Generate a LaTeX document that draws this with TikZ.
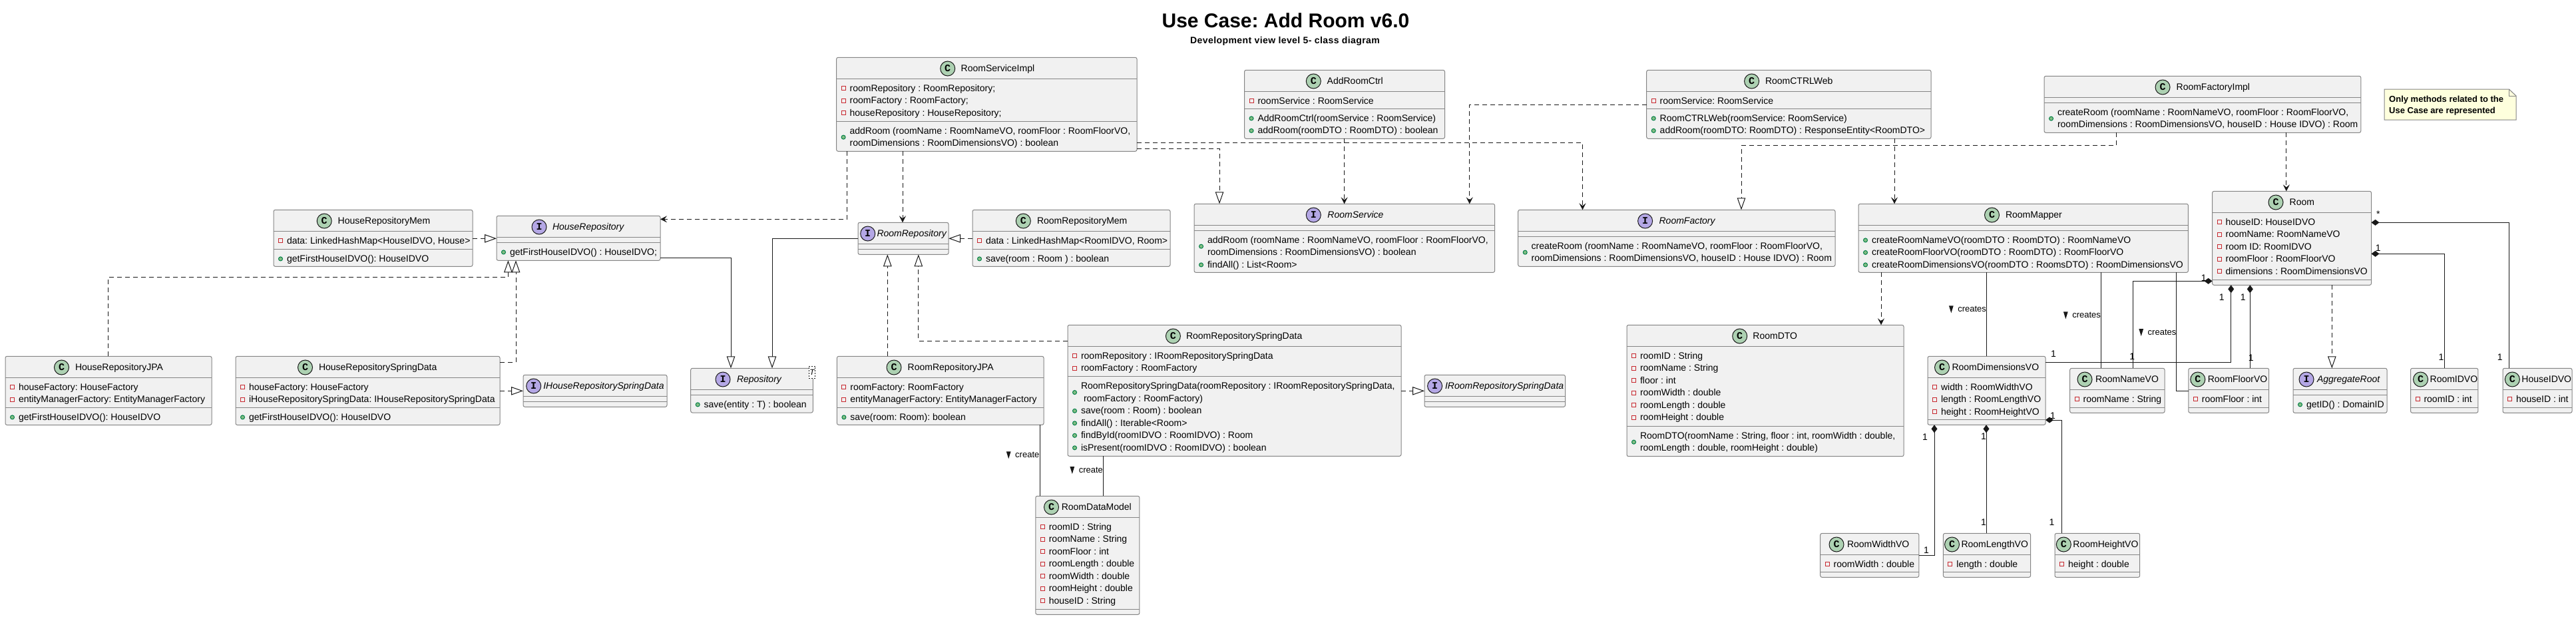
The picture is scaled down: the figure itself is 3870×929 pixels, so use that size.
\documentclass[tikz,border=0pt]{standalone}
\usepackage{fontspec}
\setmainfont{Liberation Sans}
\newfontfamily\iconfont{Liberation Mono}
\newfontfamily\subfont[LetterSpace=3]{Liberation Sans}
\usetikzlibrary{arrows.meta}
\frenchspacing
\definecolor{boxfill}{HTML}{F1F1F1}
\definecolor{boxline}{HTML}{858585}
\definecolor{ink}{HTML}{181818}
\definecolor{cicon}{HTML}{ADD1B2}
\definecolor{iicon}{HTML}{B4A7E5}
\definecolor{notefill}{HTML}{FEFFDD}
\definecolor{pvline}{HTML}{C82930}
\definecolor{pbline}{HTML}{038048}
\definecolor{pbfill}{HTML}{84BE84}
\newcounter{tn}
\tikzset{
  umlbox/.style={draw=boxline,fill=boxfill,line width=1pt,rounded corners=2.5pt,rectangle,inner sep=0pt,outer sep=0pt,anchor=north west},
  sepline/.style={draw=boxline,line width=1pt},
  memtext/.style={inner sep=0pt,outer sep=0pt,anchor=base west,text=black,font=\fontsize{14}{16}\selectfont},
  headtext/.style={inner sep=0pt,outer sep=0pt,anchor=base west,text=black,font=\fontsize{14}{16}\selectfont},
  iconmark/.style={circle,draw=ink,line width=1pt,minimum size=22pt,inner sep=0pt,outer sep=0pt,text=black,font=\iconfont\bfseries\fontsize{15}{15}\selectfont},
  multlabel/.style={inner sep=0pt,outer sep=0pt,text=black,font=\fontsize{14}{16}\selectfont},
  rellabel/.style={inner sep=0pt,outer sep=0pt,anchor=base west,text=black,font=\fontsize{13}{15}\selectfont},
  conn/.style={draw=ink,line width=1pt},
  dep/.style={conn,dash pattern=on 7pt off 5pt,-{Stealth[length=10pt,width=10pt,inset=4pt,fill=ink]}},
  real/.style={conn,dash pattern=on 7pt off 5pt,-{Triangle[length=18pt,width=12.5pt,fill=white,line width=1pt]}},
  inh/.style={conn,-{Triangle[length=18pt,width=12.5pt,fill=white,line width=1pt]}},
  comp/.style={conn,{Diamond[length=12pt,width=9pt]}-},
  plain/.style={conn},
}
% id, C/I, x1, x2, y1, y2, icon x, text x, title
\newcommand{\cls}[9]{%
  \node[umlbox,minimum width=#4pt-#3pt,minimum height=#6pt-#5pt] (#1) at (#3,#5) {};
  \ifx#2I\relax
    \node[iconmark,fill=iicon] (#1icon) at (#7,{#5+16.7}) {I};
    \node[headtext] (#1title) at (#8,{#5+21.5}) {\itshape #9};
  \else
    \node[iconmark,fill=cicon] (#1icon) at (#7,{#5+16.7}) {C};
    \node[headtext] (#1title) at (#8,{#5+21.5}) {#9};
  \fi
}
\newcommand{\sepl}[2]{\draw[sepline] (#1.west |- 0,#2) -- (#1.east |- 0,#2);}
\newcommand{\rowtext}[4]{%
  \stepcounter{tn}%
  \node[memtext] (txt\arabic{tn}) at ({#1+20},{#2+19+#3*18.5}) {#4};}
\newcommand{\pvmark}[3]{\draw[pvline,line width=1pt] ({#1+7.5},{#2+19+#3*18.5-7.4}) rectangle ++(6,6);}
\newcommand{\pbmark}[3]{\draw[pbline,fill=pbfill,line width=1pt] ({#1+10.5},{#2+19+#3*18.5-4.4}) circle (3pt);}
\newcommand{\pv}[4]{\pvmark{#1}{#2}{#3}\rowtext{#1}{#2}{#3}{#4}}
\newcommand{\pb}[4]{\pbmark{#1}{#2}{#3}\rowtext{#1}{#2}{#3}{#4}}
\newcommand{\mult}[3]{\stepcounter{tn}\node[multlabel] (txt\arabic{tn}) at (#1,#2) {#3};}
% text x, baseline y, text
\newcommand{\rel}[3]{%
  \stepcounter{tn}%
  \node[rellabel] (txt\arabic{tn}) at (#1,#2) {#3};
  \fill[ink] ({#1-13.4},{#2-9.3}) -- ({#1-6.6},{#2-9.3}) -- ({#1-10},{#2+1.7}) -- cycle;}
\begin{document}
\begin{tikzpicture}[x=1pt,y=-1pt]
\useasboundingbox (0,0) rectangle (3870,929);
% titles
\node[inner sep=0pt,anchor=base,font=\bfseries\fontsize{30}{34}\selectfont] (maintitle) at (1931.5,41.7) {Use Case: Add Room v6.0};
\node[inner sep=0pt,anchor=base,font=\subfont\bfseries\fontsize{14}{16}\selectfont] (subtitle) at (1930.5,65) {Development view level 5- class diagram};
% ----- classes
\cls{hmem}{C}{411}{710}{315.3}{400.3}{487.2}{507.7}{HouseRepositoryMem}
\sepl{hmem}{347.3}\sepl{hmem}{374.3}
\pv{411}{347.3}{0}{data: LinkedHashMap<HouseIDVO, House>}
\pb{411}{374.3}{0}{getFirstHouseIDVO(): HouseIDVO}

\cls{hrepo}{I}{746}{992}{324.3}{391.3}{810}{830}{HouseRepository}
\sepl{hrepo}{356.3}\sepl{hrepo}{364.3}
\pb{746}{364.3}{0}{getFirstHouseIDVO() : HouseIDVO;}

\cls{hjpa}{C}{8}{318}{535.3}{638.5}{92.5}{113}{HouseRepositoryJPA}
\sepl{hjpa}{567.3}\sepl{hjpa}{612.3}
\pv{8}{567.3}{0}{houseFactory: HouseFactory}
\pv{8}{567.3}{1}{entityManagerFactory: EntityManagerFactory}
\pb{8}{612.3}{0}{getFirstHouseIDVO(): HouseIDVO}

\cls{hspring}{C}{354}{751}{535.3}{638.5}{458.5}{479}{HouseRepositorySpringData}
\sepl{hspring}{567.3}\sepl{hspring}{612.3}
\pv{354}{567.3}{0}{houseFactory: HouseFactory}
\pv{354}{567.3}{1}{iHouseRepositorySpringData: IHouseRepositorySpringData}
\pb{354}{612.3}{0}{getFirstHouseIDVO(): HouseIDVO}

\cls{ihspring}{I}{786}{1002}{563.3}{611.3}{801.7}{816.3}{IHouseRepositorySpringData}
\sepl{ihspring}{595.3}\sepl{ihspring}{603.3}

\cls{repo}{I}{1037.7}{1221.3}{553.3}{620}{1086}{1107}{Repository}
\sepl{repo}{585.3}\sepl{repo}{593.3}
\pb{1037.7}{593.3}{0}{save(entity : T) : boolean}
\node[draw=ink,dash pattern=on 2pt off 2pt,line width=.8pt,fill=white,inner sep=0pt,minimum width=9.4pt,minimum height=18.7pt,font=\itshape\fontsize{12}{14}\selectfont] (repotemplate) at (1220,559.3) {T};

\cls{rsi}{C}{1256.6}{1708}{86.3}{227.3}{1423.7}{1443.7}{RoomServiceImpl}
\sepl{rsi}{118.3}\sepl{rsi}{182.3}
\pv{1256.6}{118.3}{0}{roomRepository : RoomRepository;}
\pv{1256.6}{118.3}{1}{roomFactory : RoomFactory;}
\pv{1256.6}{118.3}{2}{houseRepository : HouseRepository;}
\pbmark{1256.6}{182.3}{0.5}
\rowtext{1256.6}{182.3}{0}{addRoom (roomName : RoomNameVO, roomFloor : RoomFloorVO,}
\rowtext{1256.6}{182.3}{1}{roomDimensions : RoomDimensionsVO) : boolean}

\cls{rrepo}{I}{1289}{1425}{334.3}{382.3}{1303.7}{1317.5}{RoomRepository}
\sepl{rrepo}{366.3}\sepl{rrepo}{374.3}

\cls{rmem}{C}{1461}{1758}{315.3}{400.3}{1537.3}{1558}{RoomRepositoryMem}
\sepl{rmem}{347.3}\sepl{rmem}{374.3}
\pv{1461}{347.3}{0}{data : LinkedHashMap<RoomIDVO, Room>}
\pb{1461}{374.3}{0}{save(room : Room ) : boolean}

\cls{rjpa}{C}{1257.4}{1568}{535.3}{638.3}{1343}{1363.7}{RoomRepositoryJPA}
\sepl{rjpa}{567.3}\sepl{rjpa}{612.3}
\pv{1257.4}{567.3}{0}{roomFactory: RoomFactory}
\pv{1257.4}{567.3}{1}{entityManagerFactory: EntityManagerFactory}
\pb{1257.4}{612.3}{0}{save(room: Room): boolean}

\cls{rspring}{C}{1604}{2105}{488.3}{685.3}{1762.4}{1782}{RoomRepositorySpringData}
\sepl{rspring}{520.3}\sepl{rspring}{565.7}
\pv{1604}{520.3}{0}{roomRepository : IRoomRepositorySpringData}
\pv{1604}{520.3}{1}{roomFactory : RoomFactory}
\pbmark{1604}{565.7}{0.5}
\rowtext{1604}{565.7}{0}{RoomRepositorySpringData(roomRepository : IRoomRepositorySpringData,}
\rowtext{1604}{565.7}{1}{\hspace*{4pt}roomFactory : RoomFactory)}
\pb{1604}{565.7}{2}{save(room : Room) : boolean}
\pb{1604}{565.7}{3}{findAll() : Iterable<Room>}
\pb{1604}{565.7}{4}{findById(roomIDVO : RoomIDVO) : Room}
\pb{1604}{565.7}{5}{isPresent(roomIDVO : RoomIDVO) : boolean}

\cls{irspring}{I}{2140}{2351.5}{563.3}{611.3}{2155.6}{2171}{IRoomRepositorySpringData}
\sepl{irspring}{595.3}\sepl{irspring}{603.3}

\cls{rdm}{C}{1555.8}{1711.9}{745.3}{923.3}{1579.5}{1594.8}{RoomDataModel}
\sepl{rdm}{777.3}\sepl{rdm}{915.3}
\pv{1555.8}{777.3}{0}{roomID : String}
\pv{1555.8}{777.3}{1}{roomName : String}
\pv{1555.8}{777.3}{2}{roomFloor : int}
\pv{1555.8}{777.3}{3}{roomLength : double}
\pv{1555.8}{777.3}{4}{roomWidth : double}
\pv{1555.8}{777.3}{5}{roomHeight : double}
\pv{1555.8}{777.3}{6}{houseID : String}

\cls{addctrl}{C}{1869.5}{2170.5}{105.3}{208.3}{1973.3}{1993.7}{AddRoomCtrl}
\sepl{addctrl}{137.3}\sepl{addctrl}{163.3}
\pv{1869.5}{137.3}{0}{roomService : RoomService}
\pb{1869.5}{163.3}{0}{AddRoomCtrl(roomService : RoomService)}
\pb{1869.5}{163.3}{1}{addRoom(roomDTO : RoomDTO) : boolean}

\cls{rsvc}{I}{1794}{2245.6}{306.3}{409.3}{1973.3}{1994.4}{RoomService}
\sepl{rsvc}{338.3}\sepl{rsvc}{346.3}
\pbmark{1794}{346.3}{0.5}
\rowtext{1794}{346.3}{0}{addRoom (roomName : RoomNameVO, roomFloor : RoomFloorVO,}
\rowtext{1794}{346.3}{1}{roomDimensions : RoomDimensionsVO) : boolean}
\pb{1794}{346.3}{2}{findAll() : List<Room>}

\cls{rfac}{I}{2280.7}{2757}{315.3}{400.3}{2471.6}{2492.6}{RoomFactory}
\sepl{rfac}{347.3}\sepl{rfac}{355.3}
\pbmark{2280.7}{355.3}{0.5}
\rowtext{2280.7}{355.3}{0}{createRoom (roomName : RoomNameVO, roomFloor : RoomFloorVO,}
\rowtext{2280.7}{355.3}{1}{roomDimensions : RoomDimensionsVO, houseID : House IDVO) : Room}

\cls{web}{C}{2473.7}{2901}{105.3}{208.3}{2631.6}{2652}{RoomCTRLWeb}
\sepl{web}{137.3}\sepl{web}{163.3}
\pv{2473.7}{137.3}{0}{roomService: RoomService}
\pb{2473.7}{163.3}{0}{RoomCTRLWeb(roomService: RoomService)}
\pb{2473.7}{163.3}{1}{addRoom(roomDTO: RoomDTO) : ResponseEntity<RoomDTO>}

\cls{fimpl}{C}{3071}{3546.8}{114.3}{199.3}{3249}{3269.6}{RoomFactoryImpl}
\sepl{fimpl}{146.3}\sepl{fimpl}{154.3}
\pbmark{3071}{154.3}{0.5}
\rowtext{3071}{154.3}{0}{createRoom (roomName : RoomNameVO, roomFloor : RoomFloorVO,}
\rowtext{3071}{154.3}{1}{roomDimensions : RoomDimensionsVO, houseID : House IDVO) : Room}

\cls{mapper}{C}{2792}{3287.4}{306.3}{409.3}{2992.5}{3013}{RoomMapper}
\sepl{mapper}{338.3}\sepl{mapper}{346.3}
\pb{2792}{346.3}{0}{createRoomNameVO(roomDTO : RoomDTO) : RoomNameVO}
\pb{2792}{346.3}{1}{createRoomFloorVO(roomDTO : RoomDTO) : RoomFloorVO}
\pb{2792}{346.3}{2}{createRoomDimensionsVO(roomDTO : RoomsDTO) : RoomDimensionsVO}

\cls{room}{C}{3323.6}{3562.5}{287.3}{428.3}{3419}{3439.6}{Room}
\sepl{room}{319.3}\sepl{room}{420.3}
\pv{3323.6}{319.3}{0}{houseID: HouseIDVO}
\pv{3323.6}{319.3}{1}{roomName: RoomNameVO}
\pv{3323.6}{319.3}{2}{room ID: RoomIDVO}
\pv{3323.6}{319.3}{3}{roomFloor : RoomFloorVO}
\pv{3323.6}{319.3}{4}{dimensions : RoomDimensionsVO}

\cls{dto}{C}{2444}{2860}{488.3}{685.7}{2613.7}{2633.4}{RoomDTO}
\sepl{dto}{520.3}\sepl{dto}{640.3}
\pv{2444}{520.3}{0}{roomID : String}
\pv{2444}{520.3}{1}{roomName : String}
\pv{2444}{520.3}{2}{floor : int}
\pv{2444}{520.3}{3}{roomWidth : double}
\pv{2444}{520.3}{4}{roomLength : double}
\pv{2444}{520.3}{5}{roomHeight : double}
\pbmark{2444}{640.3}{0.5}
\rowtext{2444}{640.3}{0}{RoomDTO(roomName : String, floor : int, roomWidth : double,}
\rowtext{2444}{640.3}{1}{roomLength : double, roomHeight : double)}

\cls{dimvo}{C}{2896}{3073}{535.3}{638.3}{2917.5}{2932.5}{RoomDimensionsVO}
\sepl{dimvo}{567.3}\sepl{dimvo}{630}
\pv{2896}{567.3}{0}{width : RoomWidthVO}
\pv{2896}{567.3}{1}{length : RoomLengthVO}
\pv{2896}{567.3}{2}{height : RoomHeightVO}

\cls{namevo}{C}{3109.7}{3252}{553.3}{620.3}{3132}{3148}{RoomNameVO}
\sepl{namevo}{585.3}\sepl{namevo}{612.3}
\pv{3109.7}{585.3}{0}{roomName : String}

\cls{floorvo}{C}{3287.8}{3408.7}{553.3}{620.3}{3301.8}{3316.8}{RoomFloorVO}
\sepl{floorvo}{585.3}\sepl{floorvo}{612.3}
\pv{3287.8}{585.3}{0}{roomFloor : int}

\cls{aggroot}{I}{3445}{3586}{553.3}{620.3}{3465}{3481}{AggregateRoot}
\sepl{aggroot}{585.3}\sepl{aggroot}{593.3}
\pb{3445}{593.3}{0}{getID() : DomainID}

\cls{idvo}{C}{3621.5}{3722.8}{553.3}{620.3}{3636.5}{3650.6}{RoomIDVO}
\sepl{idvo}{585.3}\sepl{idvo}{612.3}
\pv{3621.5}{585.3}{0}{roomID : int}

\cls{hidvo}{C}{3760}{3864}{553.3}{620.3}{3774.3}{3788.4}{HouseIDVO}
\sepl{hidvo}{585.3}\sepl{hidvo}{612.3}
\pv{3760}{585.3}{0}{houseID : int}

\cls{wvo}{C}{2734.7}{2882.8}{801.3}{867.3}{2759}{2775}{RoomWidthVO}
\sepl{wvo}{833.3}\sepl{wvo}{859.3}
\pv{2734.7}{833.3}{0}{roomWidth : double}

\cls{lvo}{C}{2919.4}{3050.6}{801.3}{867.3}{2932.5}{2946.5}{RoomLengthVO}
\sepl{lvo}{833.3}\sepl{lvo}{859.3}
\pv{2919.4}{833.3}{0}{length : double}

\cls{hvo}{C}{3087}{3214.7}{801.3}{867.3}{3100.3}{3114.4}{RoomHeightVO}
\sepl{hvo}{833.3}\sepl{hvo}{859.3}
\pv{3087}{833.3}{0}{height : double}

% note
\node[inner sep=0pt,outer sep=0pt,anchor=north west,minimum width=198pt,minimum height=46pt] (note) at (3582,134) {};
\draw[draw=boxline,fill=notefill,line width=1pt] (note.north west) -- (3769.3,0 |- note.north) -- (note.east |- 0,144) -- (note.south east) -- (note.south west) -- cycle;
\draw[draw=boxline,line width=1pt] (3769.3,0 |- note.north) -- (3769.3,144) -- (note.east |- 0,144);
\node[inner sep=0pt,anchor=base west,font=\bfseries\fontsize{13}{15}\selectfont] (notea) at (3589,153.3) {Only methods related to the};
\node[inner sep=0pt,anchor=base west,font=\bfseries\fontsize{13}{15}\selectfont] (noteb) at (3589,170.7) {Use Case are represented};

% ----- connectors
\draw[real] (hmem.east |- 0,358.3) -- (hrepo.west |- 0,358.3);
\draw[real] (162.6,0 |- hjpa.north) -- (162.6,416.3) -- (763.4,416.3) -- (763.4,0 |- hrepo.south);
\draw[real] (hspring.east |- 0,544.3) -- (775,544.3) -- (775,0 |- hrepo.south);
\draw[real] (hspring.east |- 0,587.3) -- (ihspring.west |- 0,587.3);
\draw[inh] (hrepo.east |- 0,387.7) -- (1098,387.7) -- (1098,0 |- repo.north);
\draw[inh] (rrepo.west |- 0,358.3) -- (1160,358.3) -- (1160,0 |- repo.north);
\draw[dep] (1272.7,0 |- rsi.south) -- (1272.7,329.3) -- (hrepo.east |- 0,329.3);
\draw[dep] (1356,0 |- rsi.south) -- (1356,0 |- rrepo.north);
\draw[real] (rsi.east |- 0,223.3) -- (1832,223.3) -- (1832,0 |- rsvc.north);
\draw[dep] (rsi.east |- 0,214.3) -- (2377.5,214.3) -- (2377.5,0 |- rfac.north);
\draw[dep] (2019.6,0 |- addctrl.south) -- (2019.6,0 |- rsvc.north);
\draw[dep] (web.west |- 0,157.3) -- (2207.7,157.3) -- (2207.7,0 |- rsvc.north);
\draw[dep] (2846,0 |- web.south) -- (2846,0 |- mapper.north);
\draw[real] (3179.5,0 |- fimpl.south) -- (3179.5,218.3) -- (2616,218.3) -- (2616,0 |- rfac.north);
\draw[dep] (3434.8,0 |- fimpl.south) -- (3434.8,0 |- room.north);
\draw[real] (rmem.west |- 0,358.3) -- (rrepo.east |- 0,358.3);
\draw[real] (1333.3,0 |- rjpa.north) -- (1333.3,0 |- rrepo.south);
\draw[real] (rspring.west |- 0,512) -- (1379.8,512) -- (1379.8,0 |- rrepo.south);
\draw[real] (rspring.east |- 0,587.3) -- (irspring.west |- 0,587.3);
\draw[plain] (1562,0 |- rjpa.south) -- (1562,0 |- rdm.north);
\draw[plain] (1657.5,0 |- rspring.south) -- (1657.5,0 |- rdm.north);
\rel{1525.2}{687.6}{create}
\rel{1620.8}{710.3}{create}
\draw[dep] (2826,0 |- mapper.south) -- (2826,0 |- dto.north);
\draw[plain] (2984.3,0 |- mapper.south) -- (2984.3,0 |- dimvo.north);
\draw[plain] (3156.3,0 |- mapper.south) -- (3156.3,0 |- namevo.north);
\draw[plain] (3269.4,0 |- mapper.south) -- (3269.4,587.3) -- (floorvo.west |- 0,587.3);
\rel{2941.3}{468.6}{creates}
\rel{3113.3}{477.6}{creates}
\rel{3226.7}{503.3}{creates}
\draw[comp] (room.west |- 0,422.3) -- (3204.3,422.3) -- (3204.3,0 |- namevo.north);
\draw[comp] (3351.7,0 |- room.south) -- (3351.7,544.3) -- (dimvo.east |- 0,544.3);
\draw[comp] (3380.3,0 |- room.south) -- (3380.3,0 |- floorvo.north);
\draw[comp] (room.east |- 0,334.3) -- (3769,334.3) -- (3769,0 |- hidvo.north);
\draw[comp] (room.east |- 0,381.3) -- (3672.2,381.3) -- (3672.2,0 |- idvo.north);
\draw[real] (3503.3,0 |- room.south) -- (3503.3,0 |- aggroot.north);
\draw[comp] (2906,0 |- dimvo.south) -- (2906,834.3) -- (wvo.east |- 0,834.3);
\draw[comp] (2984,0 |- dimvo.south) -- (2984,0 |- lvo.north);
\draw[comp] (dimvo.east |- 0,631) -- (3097.5,631) -- (3097.5,0 |- hvo.north);
% multiplicities
\mult{3310.7}{417.3}{1}
\mult{3337.7}{446.7}{1}
\mult{3369.7}{446.7}{1}
\mult{3203.3}{536}{1}
\mult{3381.7}{537.3}{1}
\mult{3085}{532}{1}
\mult{3572.7}{322}{*}
\mult{3572.7}{373}{1}
\mult{3667.5}{537}{1}
\mult{3755.6}{537}{1}
\mult{2892}{657}{1}
\mult{2894}{826.7}{1}
\mult{2980}{656}{1}
\mult{2980}{785}{1}
\mult{3084}{625}{1}
\mult{3082.5}{785}{1}
\end{tikzpicture}
\end{document}
